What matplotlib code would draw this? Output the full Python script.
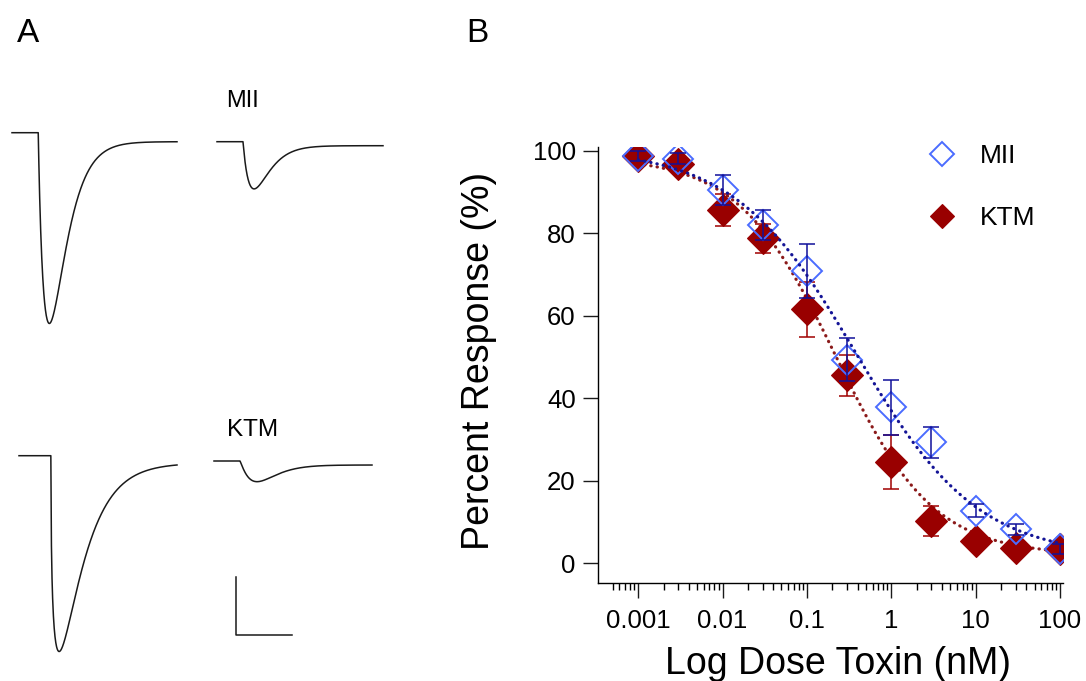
import numpy as np
import matplotlib
matplotlib.use("Agg")
from matplotlib import pyplot as plt

plt.rcParams['font.family'] = ['Liberation Sans', 'DejaVu Sans']

W, H = 1086, 681

# ---- panel B: dose-response ----
dose = [0.001, 0.003, 0.01, 0.03, 0.1, 0.3, 1, 3, 10, 30, 100]  # nM
mii_resp = [98.7, 98.1, 90.5, 82.0, 70.9, 49.3, 37.8, 29.3, 12.8, 8.2, 3.5]
mii_err = [1.2, 1.3, 3.7, 3.6, 6.5, 5.2, 6.6, 3.7, 1.6, 1.3, 1.3]
ktm_resp = [98.7, 96.9, 85.6, 78.8, 61.6, 45.6, 24.6, 10.3, 5.5, 3.6, 3.5]
ktm_err = [1.2, 1.5, 3.8, 3.5, 6.7, 5.0, 6.5, 3.6, 1.0, 1.2, 1.3]

# Hill fits: top, bottom, IC50 (nM), slope
mii_fit = (100.5, 1.5, 0.38, 0.6)
ktm_fit = (98.5, 2.0, 0.22, 0.75)

# ---- panel A: current traces (ms, pA) ----
trace_len = [165, 166, 158, 158]
trace_onset = [26.3, 26, 32, 26]
trace_tpeak = [11, 11, 8, 17]
trace_shape = [0.9, 1.0, 0.38, 1.4]
trace_amp = [182, 43.3, 189, 16.7]
trace_sustain = [9, 4, 7.3, 4]
scale_ms, scale_pa = 56, 58


def hill(x, top, bottom, ic50, n):
    return bottom + (top - bottom) / (1 + (x / ic50) ** n)


def current(t, onset, tp, n, amp, sus):
    s = np.clip(t - onset, 0, None)
    g = (s / tp) ** n * np.exp(n * (1 - s / tp))
    return amp * g + sus * (1 - np.exp(-s / 3.0))


fig = plt.figure(figsize=(W / 100, H / 100), dpi=100)

# panel A, axes in pixel-like units
axA = fig.add_axes([0, 0, 0.42, 1])
axA.set_xlim(0, 0.42 * W)
axA.set_ylim(-H, 0)
axA.axis("off")
origins = [(12, 132.7), (217, 141.7), (19, 455.7), (214, 461)]
for i, (x0, y0) in enumerate(origins):
    t = np.linspace(0, trace_len[i], 800)
    cur = current(t, trace_onset[i], trace_tpeak[i], trace_shape[i],
                  trace_amp[i], trace_sustain[i])
    axA.plot(x0 + t, -y0 - cur, color="#1a1a1a", lw=1.1)
axA.text(226, -107, "MII", fontsize=17, ha="left", va="baseline")
axA.text(227, -436, "KTM", fontsize=17.5, ha="left", va="baseline")
# scale bar
axA.plot([236, 236, 236 + scale_ms], [-635 + scale_pa, -635, -635],
         color="#1a1a1a", lw=1.1)

# panel B
ax = fig.add_axes([598 / W, 1 - 583 / H, 465 / W, 436 / H])
ax.set_xscale("log")
xx = np.logspace(-3, 2, 300)

ax.plot(xx, hill(xx, *ktm_fit), color="#8b1a1a", lw=2.3,
        linestyle=(0, (0.1, 1.9)), dash_capstyle="round", zorder=1)
ax.errorbar(dose, ktm_resp, yerr=ktm_err, fmt="none", ecolor="#a00000",
            elinewidth=1.1, capsize=5.5, capthick=1.1, zorder=2)
ktm_h, = ax.plot(dose, ktm_resp, "D", ms=16, mfc="#990000", mec="#990000",
                 mew=0.8, zorder=3, label="KTM")
mii_h, = ax.plot(dose, mii_resp, "D", ms=15.5, mfc="none", mec="#4a6cff",
                 mew=1.4, zorder=4, label="MII")
ax.errorbar(dose, mii_resp, yerr=mii_err, fmt="none", ecolor="#10109a",
            elinewidth=1.1, capsize=5.5, capthick=1.1, zorder=5)
ax.plot(xx, hill(xx, *mii_fit), color="#141496", lw=2.3,
        linestyle=(0, (0.1, 1.9)), dash_capstyle="round", zorder=6)

ax.set_xlim(10 ** -3.476, 10 ** 2.036)
ax.set_ylim(-4.77, 100.9)
ax.set_yticks([0, 20, 40, 60, 80, 100])
ax.set_xticks([0.001, 0.01, 0.1, 1, 10, 100])
ax.set_xticklabels(["0.001", "0.01", "0.1", "1", "10", "100"])
minor = [m * 10.0 ** e for e in range(-4, 2) for m in range(2, 10)]
ax.set_xticks([v for v in minor if 0.00045 < v < 100], minor=True)
ax.tick_params(axis="both", which="major", length=11, width=1.0,
               labelsize=18.5, color="#1a1a1a")
ax.tick_params(axis="y", pad=5)
ax.tick_params(axis="x", pad=8)
ax.tick_params(axis="x", which="minor", length=5, width=1.0)
for s in ["top", "right"]:
    ax.spines[s].set_visible(False)
for s in ["left", "bottom"]:
    ax.spines[s].set_linewidth(1.0)

ax.set_ylabel("Percent Response (%)", fontsize=27)
ax.yaxis.set_label_coords(-0.217, 0.509)
ax.set_xlabel("Log Dose Toxin (nM)", fontsize=27)
ax.xaxis.set_label_coords(0.517, -0.144)

ax.legend(handles=[mii_h, ktm_h], labels=["MII", "KTM"], loc="upper left",
          bbox_to_anchor=(928.5 / W, 1 - 144 / H), bbox_transform=fig.transFigure,
          frameon=False, borderpad=0, borderaxespad=0, handlelength=1.0,
          handletextpad=0.96, labelspacing=1.45, markerscale=0.79,
          fontsize=19)

fig.text(17 / W, 1 - 41.7 / H, "A", fontsize=24, va="baseline")
fig.text(466 / W, 1 - 41.7 / H, "B", fontsize=24, va="baseline")

fig.savefig("out.png", dpi=100)
